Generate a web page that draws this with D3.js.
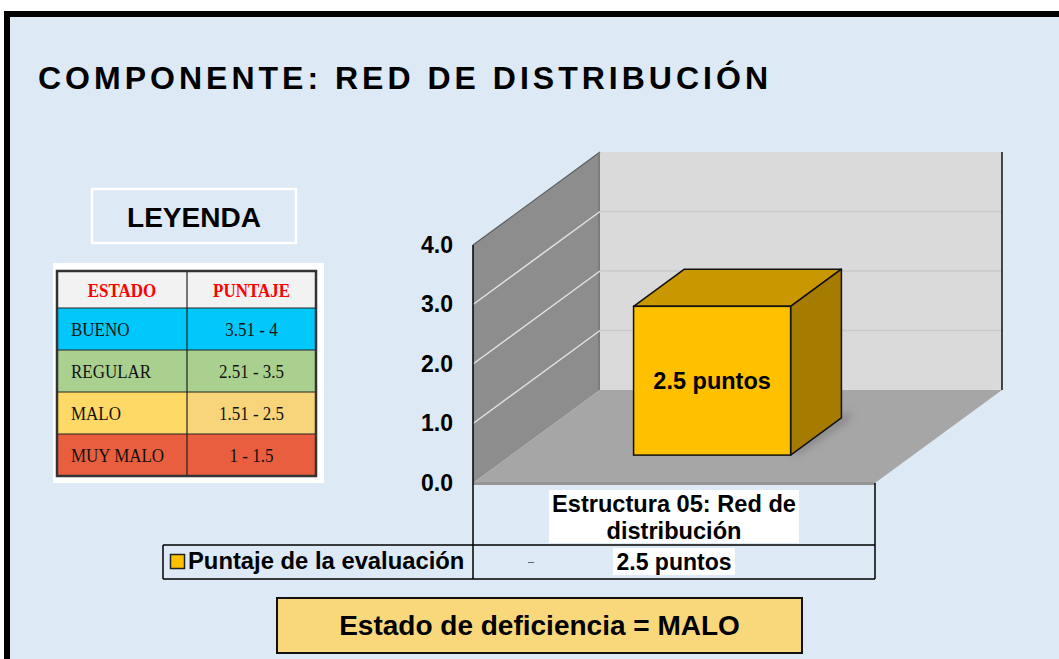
<!DOCTYPE html>
<html><head><meta charset="utf-8">
<script src="https://cdn.jsdelivr.net/npm/d3@7"></script>
<style>body{margin:0;background:#fff;} svg{display:block}</style>
</head><body>
<script>
// ---- data ----
const title = "COMPONENTE: RED DE DISTRIBUCIÓN";
const categories = ["Estructura 05: Red de distribución"];
const categoryLines = [["Estructura 05: Red de", "distribución"]];
const values = [2.5];
const valueLabels = ["2.5 puntos"];
const seriesName = "Puntaje de la evaluación";
const yTicks = [0, 1, 2, 3, 4];
const legendTitle = "LEYENDA";
const legendHeader = ["ESTADO", "PUNTAJE"];
const legendStates = ["BUENO", "REGULAR", "MALO", "MUY MALO"];
const legendRanges = ["3.51 - 4", "2.51 - 3.5", "1.51 - 2.5", "1 - 1.5"];
const verdict = "Estado de deficiencia = MALO";

// ---- styles ----
const stateColors = ["#00c8fa", "#a9d08e", "#ffd966", "#e95e3f"];
const rangeColors = ["#00c8fa", "#a9d08e", "#f8d57a", "#e95e3f"];
const W = 1059, H = 659;
const sans = "'Liberation Sans', Arial, sans-serif";
const serif = "'Liberation Serif', 'Times New Roman', serif";

const svg = d3.select("body").append("svg").attr("width", W).attr("height", H);

// frame
svg.append("rect").attr("width", W).attr("height", H).attr("fill", "#fff");
svg.append("rect").attr("x", 7).attr("y", 14).attr("width", 1120).attr("height", 720)
  .attr("fill", "#dde9f5").attr("stroke", "#000").attr("stroke-width", 6);

// title
svg.append("text").attr("x", 38).attr("y", 89).text(title)
  .attr("font-family", sans).attr("font-weight", "bold").attr("font-size", 32)
  .attr("textLength", 730).attr("lengthAdjust", "spacing").attr("fill", "#000");

// ---- legend ----
svg.append("rect").attr("x", 92).attr("y", 189).attr("width", 204).attr("height", 54)
  .attr("fill", "none").attr("stroke", "#fff").attr("stroke-width", 2.5);
svg.append("text").attr("x", 194).attr("y", 227).attr("text-anchor", "middle")
  .attr("font-family", sans).attr("font-weight", "bold").attr("font-size", 28).text(legendTitle);

svg.append("rect").attr("x", 53).attr("y", 263).attr("width", 271).attr("height", 220).attr("fill", "#fff");
const tX0 = 57, tX1 = 316, tSplit = 187, tY0 = 271, headH = 37, rowH = 42;
const lg = svg.append("g");
lg.append("rect").attr("x", tX0).attr("y", tY0).attr("width", tX1 - tX0).attr("height", headH).attr("fill", "#f2f2f2");
legendStates.forEach((s, i) => {
  const y0 = tY0 + headH + i * rowH;
  lg.append("rect").attr("x", tX0).attr("y", y0).attr("width", tSplit - tX0).attr("height", rowH).attr("fill", stateColors[i]);
  lg.append("rect").attr("x", tSplit).attr("y", y0).attr("width", tX1 - tSplit).attr("height", rowH).attr("fill", rangeColors[i]);
  lg.append("text").attr("transform", `translate(71,${y0 + 28}) scale(0.87,1)`)
    .attr("font-family", serif).attr("font-size", 19.5).attr("fill", "#111").text(s);
  lg.append("text").attr("transform", `translate(${(tSplit + tX1) / 2},${y0 + 28}) scale(0.87,1)`)
    .attr("text-anchor", "middle").attr("font-family", serif).attr("font-size", 19.5).attr("fill", "#111").text(legendRanges[i]);
});
legendHeader.forEach((h, i) => {
  const cx = i === 0 ? (tX0 + tSplit) / 2 : (tSplit + tX1) / 2;
  lg.append("text").attr("transform", `translate(${cx},${tY0 + 26}) scale(0.87,1)`)
    .attr("text-anchor", "middle").attr("font-family", serif).attr("font-weight", "bold")
    .attr("font-size", 19.5).attr("fill", "#ff0000").text(h);
});
const tY1 = tY0 + headH + legendStates.length * rowH;
for (let i = 0; i <= legendStates.length; i++) {
  const yy = tY0 + headH + i * rowH;
  lg.append("line").attr("x1", tX0).attr("x2", tX1).attr("y1", yy).attr("y2", yy).attr("stroke", "#222").attr("stroke-width", 1.2);
}
lg.append("line").attr("x1", tSplit).attr("x2", tSplit).attr("y1", tY0).attr("y2", tY1).attr("stroke", "#222").attr("stroke-width", 1.2);
lg.append("rect").attr("x", tX0).attr("y", tY0).attr("width", tX1 - tX0).attr("height", tY1 - tY0)
  .attr("fill", "none").attr("stroke", "#333").attr("stroke-width", 2.5);

// ---- 3D chart ----
const px0 = 473, px1 = 875;
const dX = 127, dY = -93;
const y = d3.scaleLinear().domain([0, 4]).range([483, 245]);
const xCell = d3.scaleBand().domain(categories).range([px0, px1]).padding(0);
const xBar = d3.scaleBand().domain(categories).range([px0, px1]).paddingInner(0).paddingOuter(0.78);
const f0 = 0.3, f1 = 0.7;
const pts = a => a.map(p => p.join(",")).join(" ");
const vMax = yTicks[yTicks.length - 1];

// back wall
svg.append("polygon").attr("points", pts([[px0 + dX, y(vMax) + dY], [px1 + dX, y(vMax) + dY], [px1 + dX, y(0) + dY], [px0 + dX, y(0) + dY]]))
  .attr("fill", "#dadada");
yTicks.filter(v => v > 0 && v < vMax).forEach(v => {
  svg.append("line").attr("x1", px0 + dX).attr("x2", px1 + dX).attr("y1", y(v) + dY).attr("y2", y(v) + dY)
    .attr("stroke", "#c9c9c9").attr("stroke-width", 1.5);
});
svg.append("line").attr("x1", px1 + dX).attr("x2", px1 + dX).attr("y1", y(vMax) + dY).attr("y2", y(0) + dY)
  .attr("stroke", "#111").attr("stroke-width", 1.5);

// side wall
svg.append("polygon").attr("points", pts([[px0, y(0)], [px0, y(vMax)], [px0 + dX, y(vMax) + dY], [px0 + dX, y(0) + dY]]))
  .attr("fill", "#8d8d8d");
svg.append("line").attr("x1", px0).attr("x2", px0 + dX).attr("y1", y(vMax)).attr("y2", y(vMax) + dY)
  .attr("stroke", "#5e5e5e").attr("stroke-width", 1.2);
svg.append("line").attr("x1", px0 + dX - 1).attr("x2", px0 + dX - 1).attr("y1", y(vMax) + dY).attr("y2", y(0) + dY)
  .attr("stroke", "#7c7c7c").attr("stroke-width", 2);
yTicks.filter(v => v > 0 && v < vMax).forEach(v => {
  svg.append("line").attr("x1", px0).attr("x2", px0 + dX).attr("y1", y(v)).attr("y2", y(v) + dY)
    .attr("stroke", "#e2e2e2").attr("stroke-width", 1.5);
});

// floor
svg.append("polygon").attr("points", pts([[px0, y(0)], [px1, y(0)], [px1 + dX, y(0) + dY], [px0 + dX, y(0) + dY]]))
  .attr("fill", "#a6a6a6");
svg.append("rect").attr("x", px0).attr("y", y(0) - 1).attr("width", px1 - px0).attr("height", 3).attr("fill", "#979797");

// shadow filter
const defs = svg.append("defs");
defs.append("filter").attr("id", "blur").attr("x", "-20%").attr("y", "-20%").attr("width", "140%").attr("height", "140%")
  .append("feGaussianBlur").attr("stdDeviation", 4);

// bars
categories.forEach((c, i) => {
  const bx0 = xBar(c), bx1 = xBar(c) + xBar.bandwidth();
  const yv = y(values[i]), yb = y(0);
  const g = svg.append("g");
  g.append("polygon").attr("points", pts([[bx1 + f0 * dX + 4, yb + f0 * dY], [bx1 + f1 * dX + 8, yb + f1 * dY], [bx1 + f1 * dX + 8, yb + f1 * dY - 6], [bx1 + f0 * dX + 4, yb + f0 * dY - 6]]))
    .attr("fill", "#555").attr("opacity", 0.6).attr("filter", "url(#blur)");
  g.append("polygon").attr("points", pts([[bx0 + f0 * dX, yv + f0 * dY], [bx1 + f0 * dX, yv + f0 * dY], [bx1 + f1 * dX, yv + f1 * dY], [bx0 + f1 * dX, yv + f1 * dY]]))
    .attr("fill", "#c99700").attr("stroke", "#111").attr("stroke-width", 1.5).attr("stroke-linejoin", "round");
  g.append("polygon").attr("points", pts([[bx1 + f0 * dX, yv + f0 * dY], [bx1 + f1 * dX, yv + f1 * dY], [bx1 + f1 * dX, yb + f1 * dY], [bx1 + f0 * dX, yb + f0 * dY]]))
    .attr("fill", "#a67c00").attr("stroke", "#111").attr("stroke-width", 1.5).attr("stroke-linejoin", "round");
  g.append("rect").attr("x", bx0 + f0 * dX).attr("y", yv + f0 * dY).attr("width", bx1 - bx0).attr("height", yb - yv)
    .attr("fill", "#ffc000").attr("stroke", "#111").attr("stroke-width", 1.5);
  g.append("text").attr("x", (bx0 + bx1) / 2 + f0 * dX).attr("y", (yv + yb) / 2 + f0 * dY + 8)
    .attr("text-anchor", "middle").attr("font-family", sans).attr("font-weight", "bold").attr("font-size", 23.5)
    .text(valueLabels[i]);
});

// y axis labels
const ax = svg.append("g").attr("transform", `translate(${px0},0)`)
  .call(d3.axisLeft(y).tickValues(yTicks).tickFormat(d3.format(".1f")).tickSize(0).tickPadding(20));
ax.select(".domain").remove();
ax.selectAll("text").attr("font-family", sans).attr("font-weight", "bold").attr("font-size", 23).attr("fill", "#000");

// ---- data table ----
const rowTop = 545, rowBot = 579, tblLeft = 163;
svg.append("line").attr("x1", px0).attr("x2", px0).attr("y1", y(vMax)).attr("y2", rowBot).attr("stroke", "#000").attr("stroke-width", 1.5);
svg.append("line").attr("x1", px1).attr("x2", px1).attr("y1", y(0)).attr("y2", rowBot).attr("stroke", "#000").attr("stroke-width", 1.5);
[rowTop, rowBot].forEach(yy => svg.append("line").attr("x1", tblLeft).attr("x2", px1).attr("y1", yy).attr("y2", yy).attr("stroke", "#000").attr("stroke-width", 1.5));
svg.append("line").attr("x1", tblLeft).attr("x2", tblLeft).attr("y1", rowTop).attr("y2", rowBot).attr("stroke", "#000").attr("stroke-width", 1.5);

categories.forEach((c, i) => {
  const cx = xCell(c) + xCell.bandwidth() / 2;
  svg.append("rect").attr("x", cx - 125).attr("y", 490).attr("width", 250).attr("height", 53).attr("fill", "#fff");
  categoryLines[i].forEach((ln, j) => {
    svg.append("text").attr("x", cx).attr("y", 512 + j * 27).attr("text-anchor", "middle")
      .attr("font-family", sans).attr("font-weight", "bold").attr("font-size", 23.6).text(ln);
  });
  svg.append("rect").attr("x", cx - 61).attr("y", 548).attr("width", 122).attr("height", 27).attr("fill", "#fff");
  svg.append("text").attr("x", cx).attr("y", 570).attr("text-anchor", "middle")
    .attr("font-family", sans).attr("font-weight", "bold").attr("font-size", 23).text(valueLabels[i]);
  svg.append("line").attr("x1", xCell(c) + 55).attr("x2", xCell(c) + 61).attr("y1", 562.5).attr("y2", 562.5)
    .attr("stroke", "#666").attr("stroke-width", 1);
});
svg.append("rect").attr("x", 170.5).attr("y", 554.5).attr("width", 14).attr("height", 14)
  .attr("fill", "#ffc000").attr("stroke", "#222").attr("stroke-width", 1.5);
svg.append("text").attr("x", 188).attr("y", 569).attr("font-family", sans).attr("font-weight", "bold")
  .attr("font-size", 23.8).text(seriesName);

// verdict box
svg.append("rect").attr("x", 277).attr("y", 598).attr("width", 525).attr("height", 55)
  .attr("fill", "#f9d77b").attr("stroke", "#111").attr("stroke-width", 2);
svg.append("text").attr("x", 539.5).attr("y", 635).attr("text-anchor", "middle")
  .attr("font-family", sans).attr("font-weight", "bold").attr("font-size", 28).text(verdict);
</script>
</body></html>
